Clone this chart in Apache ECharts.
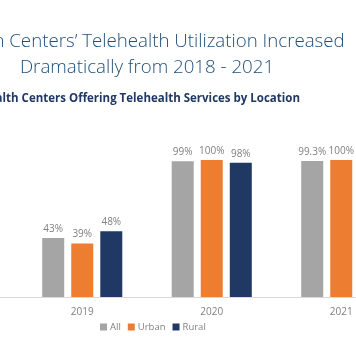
<!DOCTYPE html>
<html>
<head>
<meta charset="utf-8">
<script src="https://cdn.jsdelivr.net/npm/echarts@6/dist/echarts.min.js"></script>
<style>
html,body{margin:0;padding:0;background:#fff;}
#chart{width:356px;height:364px;}
</style>
</head>
<body>
<div id="chart"></div>
<script>
const categories = ['2018', '2019', '2020', '2021'];
const seriesNames = ['All', 'Urban', 'Rural'];
const allValues = [38, 43, 99, 99.3];
const urbanValues = [34, 39, 100, 100];
const ruralValues = [44, 48, 98, 99];
const titleLine1 = 'Health Centers’ Telehealth Utilization Increased';
const titleLine2 = 'Dramatically from 2018 - 2021';
const subtitleText = '% of Health Centers Offering Telehealth Services by Location';

const colors = ['#A5A5A5', '#ED7D31', '#203864'];
const FONT = '"Open Sans", "Noto Sans", sans-serif';

const chart = echarts.init(document.getElementById('chart'));
const labelCfg = {
  show: true,
  position: 'top',
  distance: 4,
  color: '#7f7f7f',
  fontFamily: FONT,
  fontSize: 10,
  formatter: p => p.value + '%'
};
const values = [allValues, urbanValues, ruralValues];
chart.setOption({
  animation: false,
  backgroundColor: '#fff',
  color: colors,
  graphic: [
    { type: 'text', x: 147, y: 32, style: { text: titleLine1, align: 'center', verticalAlign: 'top', fill: '#1F4E79', font: '300 18.7px ' + FONT } },
    { type: 'text', x: 147, y: 58, style: { text: titleLine2, align: 'center', verticalAlign: 'top', fill: '#1F4E79', font: '300 18.7px ' + FONT } },
    { type: 'text', x: 300, y: 93, style: { text: subtitleText, align: 'right', verticalAlign: 'top', fill: '#1F3864', font: 'bold 11.5px ' + FONT } }
  ],
  legend: {
    data: seriesNames,
    left: 95,
    top: 317,
    itemWidth: 7,
    itemHeight: 7,
    itemGap: 7,
    icon: 'rect',
    textStyle: { color: '#7f7f7f', fontFamily: FONT, fontSize: 9.5, padding: [0, 0, 0, -2] }
  },
  grid: { left: -112, right: -50, top: 160, bottom: 67, outerBoundsMode: 'none', containLabel: false },
  xAxis: {
    type: 'category',
    data: categories,
    axisLine: { lineStyle: { color: '#d9d9d9' } },
    axisTick: { show: false },
    axisLabel: { color: '#7f7f7f', fontFamily: FONT, fontSize: 10, margin: 10 }
  },
  yAxis: { type: 'value', min: 0, max: 100, show: false, splitLine: { show: false } },
  series: seriesNames.map((n, i) => ({
    name: n,
    type: 'bar',
    data: values[i],
    barWidth: 22,
    barGap: '32%',
    label: labelCfg
  }))
});
</script>
</body>
</html>
